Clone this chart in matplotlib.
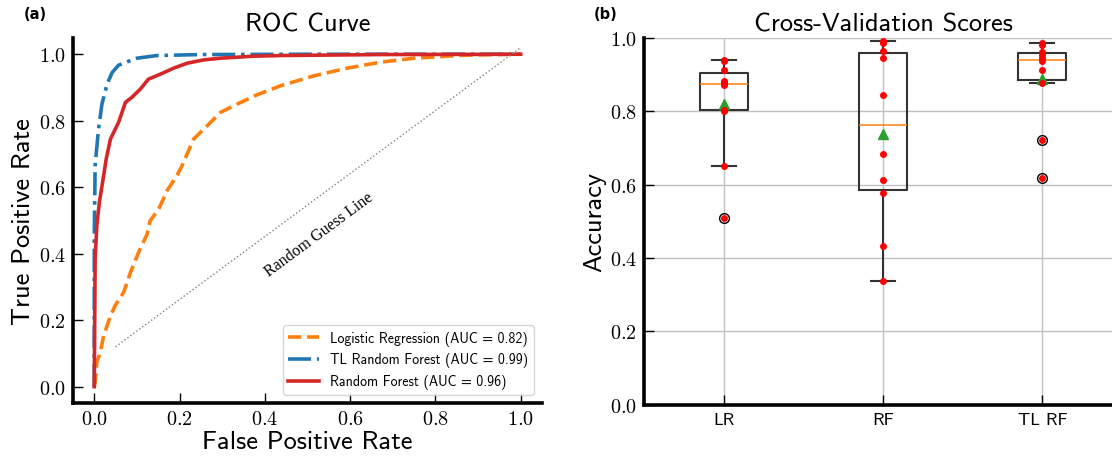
import numpy as np
import matplotlib
matplotlib.use("Agg")
import matplotlib.pyplot as plt
from matplotlib.ticker import FuncFormatter

# ===================== data =====================
# ROC curves
fpr_lr = [0.0, 0.003, 0.006, 0.014, 0.022, 0.038, 0.049, 0.069, 0.085, 0.104, 0.124, 0.131,
          0.151, 0.171, 0.194, 0.206, 0.233, 0.265, 0.296, 0.335, 0.382, 0.437, 0.515,
          0.593, 0.671, 0.750, 0.867, 0.950, 1.0]
tpr_lr = [0.0, 0.020, 0.073, 0.103, 0.153, 0.213, 0.244, 0.284, 0.344, 0.404, 0.459, 0.499,
          0.534, 0.590, 0.635, 0.665, 0.745, 0.785, 0.825, 0.850, 0.878, 0.905, 0.935,
          0.958, 0.976, 0.988, 0.997, 0.999, 1.0]

fpr_tl = [0.0, 0.0, 0.002, 0.010, 0.018, 0.030, 0.042, 0.057, 0.081, 0.100, 0.147, 0.250, 0.500, 1.0]
tpr_tl = [0.0, 0.450, 0.665, 0.775, 0.850, 0.910, 0.945, 0.967, 0.979, 0.988, 0.996, 0.999, 1.0, 1.0]

fpr_rf = [0.0, 0.002, 0.006, 0.012, 0.022, 0.028, 0.038, 0.057, 0.073, 0.088, 0.108, 0.127,
          0.155, 0.186, 0.218, 0.257, 0.296, 0.373, 0.437, 0.670, 1.0]
tpr_rf = [0.0, 0.384, 0.484, 0.555, 0.635, 0.685, 0.745, 0.795, 0.855, 0.870, 0.895, 0.925,
          0.940, 0.958, 0.973, 0.983, 0.988, 0.994, 0.996, 0.999, 1.0]

roc_labels = ["Logistic Regression (AUC = 0.82)",
              "TL Random Forest (AUC = 0.99)",
              "Random Forest (AUC = 0.96)"]

# cross-validation accuracies (10 folds)
model_names = ["LR", "RF", "TL RF"]
lr_scores = [0.939, 0.937, 0.912, 0.883, 0.877, 0.871, 0.804, 0.801, 0.651, 0.508]
rf_scores = [0.992, 0.985, 0.965, 0.944, 0.843, 0.682, 0.611, 0.576, 0.432, 0.337]
tlrf_scores = [0.985, 0.980, 0.960, 0.954, 0.944, 0.937, 0.911, 0.877, 0.720, 0.617]

ticks = [0.0, 0.2, 0.4, 0.6, 0.8, 1.0]

# ===================== style =====================
plt.rcParams["font.family"] = ["cmss10", "DejaVu Sans"]
plt.rcParams["mathtext.fontset"] = "cm"
plt.rcParams["axes.unicode_minus"] = False

cm_fmt = FuncFormatter(lambda v, p: f"${v:.1f}$")

fig = plt.figure(figsize=(11.12, 4.6), dpi=100)
ax1 = fig.add_axes([0.0656, 0.1211, 0.4218, 0.7950])
ax2 = fig.add_axes([0.5791, 0.1180, 0.4299, 0.7978])

# ===================== (a) ROC curve =====================
ax1.plot(fpr_lr, tpr_lr, "--", color="#ff7f0e", lw=2.6, label=roc_labels[0])
ax1.plot(fpr_tl, tpr_tl, "-.", color="#1f77b4", lw=2.6, label=roc_labels[1])
ax1.plot(fpr_rf, tpr_rf, "-", color="#d62728", lw=2.6, label=roc_labels[2])
ax1.plot([0.05, 1.0], [0.12, 1.02], ":", color="gray", lw=1)
ax1.text(0.526, 0.459, "Random Guess Line", rotation=36.5, rotation_mode="anchor",
         ha="center", va="center", family="Liberation Serif", fontsize=11.5)

ax1.set_xlim(-0.05, 1.05)
ax1.set_ylim(-0.05, 1.05)
ax1.set_xticks(ticks)
ax1.set_yticks(ticks)
ax1.xaxis.set_major_formatter(cm_fmt)
ax1.yaxis.set_major_formatter(cm_fmt)
ax1.set_title("ROC Curve", fontsize=19, pad=5)
ax1.set_xlabel("False Positive Rate", fontsize=19, labelpad=1)
ax1.set_ylabel("True Positive Rate", fontsize=19, labelpad=3)
ax1.legend(loc="lower right", fontsize=10, handlelength=2.2, borderaxespad=0.6)

# ===================== (b) cross-validation boxplot =====================
ax2.set_axisbelow(True)
ax2.grid(True, color="#c0c0c0", lw=1)
bp = ax2.boxplot([lr_scores, rf_scores, tlrf_scores], tick_labels=model_names, showmeans=True,
                 boxprops=dict(color="#333333", lw=1.5),
                 whiskerprops=dict(color="#333333", lw=1.5),
                 capprops=dict(color="#333333", lw=1.5),
                 medianprops=dict(color="#ff7f0e", lw=1.1),
                 meanprops=dict(marker="^", markerfacecolor="#2ca02c",
                                markeredgecolor="#2ca02c", markersize=7),
                 flierprops=dict(marker="o", markerfacecolor="none",
                                 markeredgecolor="black", markersize=7))
for i, sc in enumerate([lr_scores, rf_scores, tlrf_scores]):
    ax2.scatter([i + 1] * len(sc), sc, color="red", s=16, zorder=3)

ax2.set_xlim(0.5, 3.5)
ax2.set_ylim(0, 1.0)
ax2.set_yticks(ticks)
ax2.yaxis.set_major_formatter(cm_fmt)
ax2.set_title("Cross-Validation Scores", fontsize=19, pad=5)
ax2.set_ylabel("Accuracy", fontsize=19, labelpad=3)
ax2.tick_params(axis="x", labelsize=13, pad=6)

for ax in (ax1, ax2):
    for s in ("top", "right"):
        ax.spines[s].set_visible(False)
    for s in ("left", "bottom"):
        ax.spines[s].set_linewidth(2.6)
    ax.tick_params(direction="in", length=7, width=1, pad=5)
    ax.tick_params(axis="y", labelsize=14.5)
ax1.tick_params(axis="x", labelsize=14.5)

fig.text(0.0216, 0.985, "(a)", family="DejaVu Sans", weight="bold", fontsize=10.5, va="top")
fig.text(0.534, 0.985, "(b)", family="DejaVu Sans", weight="bold", fontsize=10.5, va="top")

fig.savefig("out.png", dpi=100)
